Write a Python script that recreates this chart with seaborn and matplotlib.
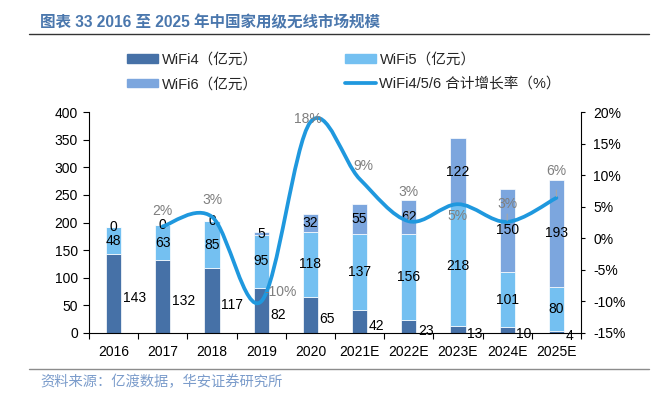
import numpy as np
import matplotlib
matplotlib.use("Agg")
import matplotlib.pyplot as plt
from matplotlib.path import Path
from matplotlib.patches import PathPatch, Patch
from matplotlib.lines import Line2D
import pandas as pd
import seaborn as sns

# data
years = ["2016", "2017", "2018", "2019", "2020", "2021E", "2022E", "2023E", "2024E", "2025E"]
wifi4 = [143, 132, 117, 82, 65, 42, 23, 13, 10, 4]
wifi5 = [48, 63, 85, 95, 118, 137, 156, 218, 101, 80]
wifi6 = [0, 0, 0, 5, 32, 55, 62, 122, 150, 193]
growth_years = ["2017", "2018", "2019", "2020", "2021E", "2022E", "2023E", "2024E", "2025E"]
growth = [1.9, 3.4, -10.0, 18.4, 9.4, 2.7, 5.4, 2.6, 6.4]

c4 = "#4671a7"
c5 = "#74c0f1"
c6 = "#7ca6de"
c_line = "#1f98de"
grey = "#7f7f7f"

sns.set_theme(style="white")
plt.rcParams["font.family"] = ["Liberation Sans", "Noto Sans CJK SC"]
plt.rcParams["axes.unicode_minus"] = False

fig = plt.figure(figsize=(6.54, 3.98), dpi=100)
ax = fig.add_axes([89 / 654, 1 - 333 / 398, 492 / 654, 221 / 398])

df = pd.DataFrame({"year": years, "wifi4": wifi4, "wifi5": wifi5, "wifi6": wifi6})
df["b5"] = df["wifi4"]
df["b6"] = df["wifi4"] + df["wifi5"]

bar_kw = dict(width=0.31, saturation=1, edgecolor="white", linewidth=0.5, ax=ax)
sns.barplot(data=df, x="year", y="wifi4", color=c4, **bar_kw)
sns.barplot(data=df, x="year", y="wifi5", bottom=df["b5"], color=c5, **bar_kw)
sns.barplot(data=df, x="year", y="wifi6", bottom=df["b6"], color=c6, **bar_kw)

ax.set_xlim(-0.5, len(years) - 0.5)
ax.set_ylim(0, 400)
ax.set_yticks(range(0, 401, 50))
ax.set_xlabel("")
ax.set_ylabel("")
ax.set_xticks(range(len(years)))
ax.set_xticklabels(years)
ax.set_xticks(np.arange(-0.5, len(years)), minor=True)
ax.tick_params(axis="x", which="major", length=0, pad=9, labelsize=10, colors="black")
ax.tick_params(axis="x", which="minor", length=4, width=0.8, direction="out", color="black", bottom=True)
ax.tick_params(axis="y", length=4, width=0.8, direction="out", pad=4, labelsize=10, colors="black", left=True)
for s in ["left", "bottom"]:
    ax.spines[s].set_color("black")
    ax.spines[s].set_linewidth(0.8)
ax.spines["top"].set_visible(False)
ax.spines["right"].set_visible(False)

# bar value labels
for i in range(len(years)):
    ax.annotate(str(wifi4[i]), xy=(i + 0.155, wifi4[i] / 2), xytext=(1, -3),
                textcoords="offset points", ha="left", va="center", fontsize=10, color="black")
    ax.text(i, wifi4[i] + wifi5[i] / 2, str(wifi5[i]), ha="center", va="center", fontsize=10, color="black")
    ax.text(i, wifi4[i] + wifi5[i] + wifi6[i] / 2, str(wifi6[i]), ha="center", va="center",
            fontsize=10, color="black")

# growth line on secondary axis (smoothed like the source chart)
ax2 = ax.twinx()
ax2.set_ylim(-15, 20)
ax2.set_yticks(range(-15, 21, 5))
ax2.set_yticklabels([f"{t}%" for t in range(-15, 21, 5)])
ax2.tick_params(axis="y", length=3, width=0.8, direction="out", pad=6, labelsize=10, colors="black", right=True)
for s in ["left", "top", "bottom"]:
    ax2.spines[s].set_visible(False)
ax2.spines["right"].set_color("black")
ax2.spines["right"].set_linewidth(0.8)
ax2.grid(False)

gx = np.array([years.index(y) for y in growth_years], dtype=float)
gy = np.array(growth, dtype=float)
pts = np.column_stack([gx, gy])
verts = [pts[0]]
codes = [Path.MOVETO]
for k in range(len(pts) - 1):
    p0 = pts[k - 1] if k > 0 else pts[k]
    p1 = pts[k]
    p2 = pts[k + 1]
    p3 = pts[k + 2] if k + 2 < len(pts) else pts[k + 1]
    verts += [p1 + (p2 - p0) / 6, p2 - (p3 - p1) / 6, p2]
    codes += [Path.CURVE4] * 3
ax2.add_patch(PathPatch(Path(verts, codes), facecolor="none", edgecolor=c_line, lw=2.7,
                        capstyle="round", joinstyle="round", zorder=5))

label_off = [(0, 11), (0, 12), (14, 6.5), (-2, 2), (3, 9.5), (0, 21), (0, -8.5), (0, 13), (0, 19)]
leader = [False, False, False, False, False, True, False, True, True]
for k in range(len(gx)):
    arrow = None
    if leader[k]:
        arrow = dict(arrowstyle="-", color="#a6a6a6", lw=0.8, shrinkA=6, shrinkB=1)
    ax2.annotate(f"{gy[k]:.0f}%", xy=(gx[k], gy[k]), xytext=label_off[k], textcoords="offset points",
                 ha="center", va="center", fontsize=10, color=grey, arrowprops=arrow, zorder=6)

# legend
handles = [Patch(color=c4, label="WiFi4（亿元）"), Patch(color=c6, label="WiFi6（亿元）"),
           Patch(color=c5, label="WiFi5（亿元）"), Line2D([], [], color=c_line, lw=2.7, label="WiFi4/5/6 合计增长率（%）")]
fig.legend(handles=handles, ncol=2, loc="upper left", bbox_to_anchor=(120 / 654, 1 - 45 / 398),
           frameon=False, fontsize=10.5, borderpad=0, handlelength=2.1, handleheight=0.55,
           handletextpad=0.25, labelspacing=0.75, columnspacing=6.0)

# title, rules and source
fig.text(40 / 654, 1 - 23 / 398, "图表 33 2016 至 2025 年中国家用级无线市场规模", fontsize=11.2,
         fontweight="bold", color="#4a77ad", ha="left", va="center")
fig.add_artist(Line2D([29 / 654, 649 / 654], [1 - 34 / 398, 1 - 34 / 398], color="#333333", lw=1))
fig.add_artist(Line2D([29 / 654, 649 / 654], [1 - 369 / 398, 1 - 369 / 398], color="#8c8c8c", lw=1))
fig.text(40 / 654, 1 - 382 / 398, "资料来源：亿渡数据，华安证券研究所", fontsize=10.3,
         color="#7b9ccb", ha="left", va="center")

fig.savefig("out.png", dpi=100)
